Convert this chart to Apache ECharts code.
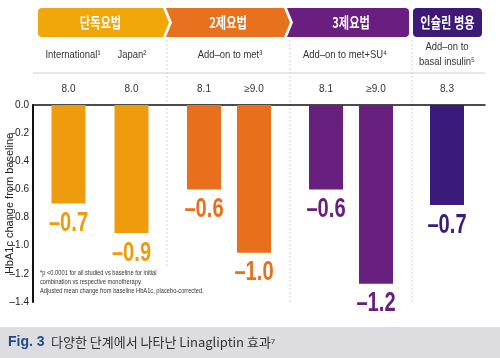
<!DOCTYPE html>
<html><head><meta charset="utf-8">
<script src="https://cdn.jsdelivr.net/npm/echarts@6/dist/echarts.min.js"></script>
<style>html,body{margin:0;padding:0;background:#fff}#c{width:500px;height:358px}</style>
</head><body><div id="c"></div>
<script>
// ---- data ----
const groupNames = ['단독요법', '2제요법', '3제요법', '인슐린 병용'];
const groupColors = ['#F0A70A', '#E8711D', '#6A1F80', '#3D1A78'];
const barColors = ['#EE9B0E', '#EE9B0E', '#E8701C', '#E8701C', '#68207E', '#68207E', '#3A1A7A'];
const subHeaders = ['International¹', 'Japan²', 'Add–on to met³', 'Add–on to met+SU⁴', 'Add–on to\nbasal insulin⁵'];
const baselineA1c = ['8.0', '8.0', '8.1', '≥9.0', '8.1', '≥9.0', '8.3'];
const hba1cChange = [-0.70, -0.91, -0.60, -1.05, -0.60, -1.27, -0.71];
const changeLabels = ['–0.7', '–0.9', '–0.6', '–1.0', '–0.6', '–1.2', '–0.7'];
const footnote = ['*p <0.0001 for all studied vs baseline for initial', 'combination vs respective monotherapy.', 'Adjusted mean change from baseline HbA1c, placebo-corrected.'];

// ---- layout ----
const PLOT_TOP = 105, PLOT_BOTTOM = 56;
const subGrids = [ [37, 163], [179, 279], [301, 401], [412, 482] ];
const gridBars = [[0,1],[2,3],[4,5],[6]];
const KR = "'Noto Sans CJK KR', sans-serif";
const LAT = "'Liberation Sans', Arial, sans-serif";

const grid = [{left: 33, right: 15, top: PLOT_TOP, bottom: PLOT_BOTTOM, containLabel: false, outerBoundsMode: 'none'}];
const xAxis = [{gridIndex: 0, type: 'value', min: 0, max: 1, position: 'top',
  axisLine: {show: true, onZero: false, lineStyle: {color: '#111', width: 1.5}},
  axisTick: {show: false}, axisLabel: {show: false}, splitLine: {show: false}}];
const yAxis = [{gridIndex: 0, type: 'value', min: -1.4, max: 0, interval: 0.2,
  name: 'HbA1c change from baseline', nameLocation: 'middle', nameGap: 18, nameMoveOverlap: false,
  nameTextStyle: {fontFamily: LAT, fontSize: 11, color: '#222'},
  axisLine: {show: true, lineStyle: {color: '#111', width: 2}},
  axisTick: {show: false}, splitLine: {show: false},
  axisLabel: {margin: 4, fontFamily: LAT, fontSize: 10, color: '#222',
    formatter: v => (v === 0 ? '0.0' : v.toFixed(1).replace('-', '–'))}}];
const series = [];
subGrids.forEach((g, gi) => {
  grid.push({left: g[0], width: g[1] - g[0], top: PLOT_TOP, bottom: PLOT_BOTTOM, containLabel: false, outerBoundsMode: 'none'});
  const idx = gridBars[gi];
  xAxis.push({gridIndex: gi + 1, type: 'category', position: 'top',
    data: idx.map(i => baselineA1c[i]),
    axisLine: {show: false}, axisTick: {show: false},
    axisLabel: {margin: 11, fontFamily: LAT, fontSize: 10, color: '#333'}});
  yAxis.push({gridIndex: gi + 1, type: 'value', min: -1.4, max: 0, show: false});
  series.push({type: 'bar', xAxisIndex: gi + 1, yAxisIndex: gi + 1, barWidth: 34,
    data: idx.map(i => ({value: hba1cChange[i], itemStyle: {color: barColors[i]}}))});
  // value labels drawn as condensed text under each bar
  series.push({type: 'custom', xAxisIndex: gi + 1, yAxisIndex: gi + 1, z: 5,
    data: idx.map((i, k) => [k, hba1cChange[i], i]),
    renderItem: (params, api) => {
      const i = api.value(2);
      const pt = api.coord([api.value(0), api.value(1)]);
      return {type: 'text', x: pt[0], y: pt[1] + 6, scaleX: 0.72,
        style: {text: changeLabels[i], fill: barColors[i], font: 'bold 28px ' + LAT,
          textAlign: 'center', textVerticalAlign: 'top'}};
    }});
});

// header graphics
const graphic = [];
const bt = 8, bb = 37, bm = (bt + bb) / 2, p = 6;
const segs = [
  {x0: 38, x1: 163, notch: false},
  {x0: 166, x1: 284, notch: true},
  {x0: 287, x1: 409, notch: true},
  {x0: 413, x1: 482, notch: false}
];
segs.forEach((s, i) => {
  const c = groupColors[i];
  if (i === 0) {
    graphic.push({type: 'rect', shape: {x: s.x0, y: bt, width: 20, height: bb - bt, r: 4}, style: {fill: c}});
    graphic.push({type: 'polygon', shape: {points: [[s.x0 + 4, bt], [s.x1, bt], [s.x1 + p, bm], [s.x1, bb], [s.x0 + 4, bb]]}, style: {fill: c}});
  } else if (i === 3) {
    graphic.push({type: 'rect', shape: {x: s.x0, y: bt, width: s.x1 - s.x0, height: bb - bt, r: 4}, style: {fill: c}});
  } else if (i === 1) {
    graphic.push({type: 'polygon', shape: {points: [[s.x0, bt], [s.x1, bt], [s.x1 + p, bm], [s.x1, bb], [s.x0, bb], [s.x0 + p, bm]]}, style: {fill: c}});
  } else {
    graphic.push({type: 'rect', shape: {x: s.x1 - 20, y: bt, width: 20, height: bb - bt, r: 4}, style: {fill: c}});
    graphic.push({type: 'polygon', shape: {points: [[s.x0, bt], [s.x1 - 4, bt], [s.x1 - 4, bb], [s.x0, bb], [s.x0 + p, bm]]}, style: {fill: c}});
  }
  graphic.push({type: 'text', x: (s.x0 + s.x1) / 2 + (s.notch ? 3 : 0), y: bm, scaleX: 0.75,
    style: {text: groupNames[i], fill: '#fff', font: 'bold 15px ' + KR, textAlign: 'center', textVerticalAlign: 'middle'}});
});
// sub headers
const subX = [73, 132, 230, 345, 447];
subHeaders.forEach((t, i) => {
  graphic.push({type: 'text', x: subX[i], y: 55, scaleX: 0.9,
    style: {text: t, fill: '#333', font: '10.5px ' + LAT, textAlign: 'center', textVerticalAlign: 'middle', lineHeight: 15}});
});
// gray divider
graphic.push({type: 'line', shape: {x1: 33, y1: 73, x2: 485, y2: 73}, style: {stroke: '#d0d0d0', lineWidth: 1}});
// dashed separators
[[167, 40, 268], [290, 40, 302], [412, 40, 302]].forEach(d => {
  graphic.push({type: 'line', shape: {x1: d[0], y1: d[1], x2: d[0], y2: d[2]}, style: {stroke: '#d4d4d4', lineWidth: 1, lineDash: [2, 2]}, z: -1});
});
// footnote
graphic.push({type: 'text', x: 40, y: 282, scaleX: 0.88, style: {text: footnote.join('\n'), fill: '#333', font: '6.5px ' + LAT, lineHeight: 9, textVerticalAlign: 'middle'}});
// caption band
graphic.push({type: 'rect', shape: {x: 0, y: 327, width: 500, height: 31}, style: {fill: '#DDDDE1'}});
graphic.push({type: 'text', x: 8, y: 342, style: {text: 'Fig. 3', fill: '#1E4B87', font: 'bold 14px ' + LAT, textVerticalAlign: 'middle'}});
graphic.push({type: 'text', x: 51, y: 342, style: {text: '다양한 단계에서 나타난 Linagliptin 효과⁷', fill: '#333', font: '13px ' + KR, textVerticalAlign: 'middle'}});

const chart = echarts.init(document.getElementById('c'), null, {renderer: 'canvas'});
chart.setOption({animation: false, grid, xAxis, yAxis, series, graphic});
</script></body></html>
